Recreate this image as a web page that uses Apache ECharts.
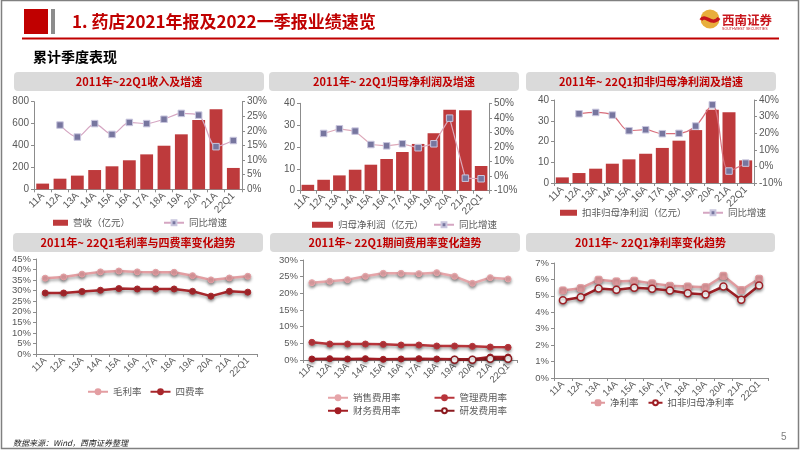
<!DOCTYPE html>
<html><head><meta charset="utf-8">
<script src="https://cdn.jsdelivr.net/npm/echarts@6/dist/echarts.min.js"></script>
<style>html,body{margin:0;padding:0;background:#fff}#c{width:802px;height:451px}</style>
</head><body><div id="c"></div>
<script>
// ---- data ----
const categories = ['11A','12A','13A','14A','15A','16A','17A','18A','19A','20A','21A','22Q1'];
const revenue = [52,97,125,176,210,265,319,398,502,633,730,195];
const revenueGrowth = ['-',22.0,17.9,22.5,18.8,22.9,22.5,24.0,26.0,25.4,14.6,16.7];
const netProfit = [2.7,5.0,7.0,9.6,11.9,14.5,17.7,21.4,26.3,37.0,36.8,11.3];
const netProfitGrowth = ['-',29.3,32.5,30.9,21.7,20.8,22.2,19.5,22.2,39.8,-1.4,-1.8];
const deductedProfit = [2.7,4.8,6.9,9.3,11.4,14.1,16.9,20.4,25.5,35.3,34.1,10.9];
const deductedGrowth = ['-',31.7,32.5,30.9,21.5,22.1,19.7,19.9,24.3,37.1,-2.8,2.0];
const grossMargin = [35.9,36.5,37.8,38.9,39.3,38.9,38.7,38.7,37.1,35.1,36.0,36.8];
const fourExpense = [28.9,28.9,29.6,30.2,31.0,30.8,30.8,30.8,29.7,27.4,29.7,29.3];
const salesExp = [23.2,23.6,24.1,25.1,26.0,26.0,25.9,26.2,25.1,23.0,24.7,24.3];
const adminExp = [5.3,4.8,4.8,4.8,4.7,4.5,4.5,4.2,4.2,4.1,3.9,3.8];
const financeExp = [0.3,0.4,0.3,0.4,0.2,0.3,0.4,0.3,0.2,0.2,0.9,0.9];
const rdExp = ['-','-','-','-','-','-','-','-',0.1,0.1,0.4,0.4];
const netMargin = [5.33,5.47,5.98,5.88,5.92,5.76,5.61,5.57,5.53,6.22,5.35,6.04];
const deductedMargin = [4.73,4.92,5.45,5.37,5.49,5.43,5.33,5.16,5.08,5.57,4.76,5.63];

const panelTitles = ['2011年~22Q1收入及增速','2011年~ 22Q1归母净利润及增速','2011年~ 22Q1扣非归母净利润及增速',
  '2011年~ 22Q1毛利率与四费率变化趋势','2011年~ 22Q1期间费用率变化趋势','2011年~ 22Q1净利率变化趋势'];

// ---- styling ----
const FONT = '"Liberation Sans", Arial, sans-serif';
const CJK = '"Noto Sans CJK SC", sans-serif';
const AX = '#8c8c8c', LBL = '#595959', RED = '#C00000', BAR = '#BE3A3C';

const chart = echarts.init(document.getElementById('c'));

function grid(l, r, t, b) { return {left:l, top:t, width:r-l, height:b-t}; }
const grids = [grid(34,242,101.7,189.3), grid(300,489,103.3,190.7), grid(554,754,100,183),
               grid(36,257,259,354), grid(303,517,260,360), grid(554,768,263,378)];
function xAx(i, fs){ return {gridIndex:i, type:'category', data:categories, boundaryGap:true,
  axisLine:{onZero:false, lineStyle:{color:AX}}, axisTick:{show:true,length:3,lineStyle:{color:AX}},
  axisLabel:{interval:0, rotate:45, fontSize:fs||10, color:LBL, margin:5, fontFamily:FONT}, splitLine:{show:false}}; }
function yAx(i, min, max, interval, pct, pos, fs){ return {gridIndex:i, type:'value', min:min, max:max, interval:interval,
  position:pos||'left', axisLine:{show:true, lineStyle:{color:AX}}, axisTick:{show:true,length:3,lineStyle:{color:AX}},
  axisLabel:{fontSize:fs||10, color:LBL, margin:5, fontFamily:FONT, formatter: pct ? '{value}%' : '{value}'}, splitLine:{show:false}}; }

const xAxes = [xAx(0), xAx(1), xAx(2), xAx(3,9.5), xAx(4,9.5), xAx(5,9.5)];
const yAxes = [
  yAx(0,0,800,200,false), yAx(0,0,30,5,true,'right'),
  yAx(1,0,40,10,false), yAx(1,-10,50,10,true,'right'),
  yAx(2,0,40,10,false), yAx(2,-10,40,10,true,'right'),
  yAx(3,0,45,5,true,'left',9.5), yAx(4,0,30,5,true,'left',9.5), yAx(5,0,7,1,true,'left',9.5)
];

const shadow = {shadowBlur:3, shadowColor:'rgba(0,0,0,0.35)', shadowOffsetY:2};
function barS(name, xi, yi, data, w){ return {name:name, type:'bar', xAxisIndex:xi, yAxisIndex:yi, data:data, barWidth:w,
  itemStyle:{color:BAR}}; }
function growthS(xi, yi, data, lineColor, smooth){ return {name:'同比增速', type:'line', xAxisIndex:xi, yAxisIndex:yi, data:data,
  smooth:smooth, symbol:'rect', symbolSize:6.5, lineStyle:{color:lineColor, width:1.2},
  itemStyle:{color:'#77769F', borderColor:'#C9C6DE', borderWidth:1}}; }
function lineS(name, xi, yi, data, color, opts){ opts = opts || {};
  return {name:name, type:'line', xAxisIndex:xi, yAxisIndex:yi, data:data, symbol:opts.symbol||'circle', symbolSize:opts.size||6,
   lineStyle:Object.assign({color:color, width:opts.width||2.5}, shadow),
   itemStyle:Object.assign({color:opts.fill||color, borderColor:color, borderWidth:opts.bw||1}, shadow)}; }

const series = [
  barS('营收（亿元）',0,0,revenue,'74%'),
  growthS(0,1,revenueGrowth,'#D5A6C2',0.3),
  barS('归母净利润（亿元）',1,2,netProfit,'80%'),
  growthS(1,3,netProfitGrowth,'#DDA9BA',0),
  barS('扣非归母净利润（亿元）',2,4,deductedProfit,'78%'),
  growthS(2,5,deductedGrowth,'#D86F7C',0.35),
  lineS('毛利率',3,6,grossMargin,'#E39EA2'),
  lineS('四费率',3,6,fourExpense,'#A8272C'),
  lineS('销售费用率',4,7,salesExp,'#E6A5A9'),
  lineS('管理费用率',4,7,adminExp,'#B8353B'),
  lineS('财务费用率',4,7,financeExp,'#A31E25'),
  lineS('研发费用率',4,7,rdExp,'#8B1A1F',{fill:'#fff',bw:1.5,size:7}),
  lineS('净利率',5,8,netMargin,'#E09A9E',{symbol:'roundRect',size:7}),
  lineS('扣非归母净利率',5,8,deductedMargin,'#9E1F25',{fill:'#fff',bw:1.5,size:7})
];

const lt = {fontSize:9.5, color:LBL, fontFamily:CJK};
function leg(left, cy, names, w, h, gap, icon){ return {left:left, top:cy-7, itemWidth:w, itemHeight:h, itemGap:gap||10,
  textStyle:lt, selectedMode:false, padding:0, data:names.map(n => icon ? {name:n, icon:icon} : n)}; }
const legends = [
  leg(53,225,['营收（亿元）'],15,6,0,'rect'), leg(163,225,['同比增速'],20,6),
  leg(312,227,['归母净利润（亿元）'],21,6,0,'rect'), leg(433,227,['同比增速'],20,6),
  leg(560,215,['扣非归母净利润（亿元）'],17,6,0,'rect'), leg(702,215,['同比增速'],20,6),
  leg(87,394,['毛利率','四费率'],20,6,8),
  leg(327,400,['销售费用率','管理费用率'],20,6,33),
  leg(327,413,['财务费用率','研发费用率'],20,6,33),
  leg(590,405,['净利率','扣非归母净利率'],14,6,9)
];

// ---- slide decoration ----
const headers = [[14,72,250],[269,72,250],[526,72,250],[13,233,250],[270,233,250],[526,233,249]];
const graphics = [
  {type:'rect', shape:{x:1.5,y:0.5,width:797,height:448}, style:{fill:'none', stroke:'#808080', lineWidth:1.5}},
  {type:'rect', shape:{x:24,y:9,width:24,height:25}, style:{fill:RED}},
  {type:'rect', shape:{x:51,y:9,width:4,height:25}, style:{fill:'#8C8C8C'}},
  {type:'text', x:72, y:22, style:{text:'1. 药店2021年报及2022一季报业绩速览', fill:RED, font:'bold 17px "Noto Sans CJK SC", sans-serif', textVerticalAlign:'middle'}},
  {type:'line', shape:{x1:22,y1:38.5,x2:779,y2:38.5}, style:{stroke:RED, lineWidth:2}},
  {type:'circle', shape:{cx:710,cy:19,r:9.5}, style:{fill:'#E8AE3C'}},
  {type:'bezierCurve', shape:{x1:701,y1:20,cpx1:705,cpy1:13,cpx2:712,cpy2:27,x2:719,y2:18}, style:{fill:'none', stroke:'#C8161D', lineWidth:3.5}},
  {type:'text', x:722, y:20, style:{text:'西南证券', fill:'#C8161D', font:'bold 12.5px "Noto Sans CJK SC", sans-serif', textVerticalAlign:'middle'}},
  {type:'text', x:722, y:28.5, style:{text:'SOUTHWEST SECURITIES', fill:'#C8161D', font:'3.6px "Liberation Sans", sans-serif', textVerticalAlign:'middle'}},
  {type:'text', x:33, y:57, style:{text:'累计季度表现', fill:'#000', font:'bold 14px "Noto Sans CJK SC", sans-serif', textVerticalAlign:'middle'}},
  {type:'text', x:13, y:443, style:{text:'数据来源：Wind，西南证券整理', fill:'#222', font:'italic 8px "Noto Sans CJK SC", sans-serif', textVerticalAlign:'middle'}},
  {type:'text', x:781, y:437, style:{text:'5', fill:'#7f7f7f', font:'10px "Liberation Sans", sans-serif', textVerticalAlign:'middle'}}
];
headers.forEach(function(h, i){
  graphics.push({type:'rect', shape:{x:h[0],y:h[1],width:h[2],height:19,r:4}, style:{fill:'#DADADA'}});
  graphics.push({type:'text', x:h[0]+h[2]/2, y:h[1]+9.5, style:{text:panelTitles[i], fill:RED,
    font:'bold 11px "Noto Sans CJK SC", sans-serif', textAlign:'center', textVerticalAlign:'middle'}});
});

chart.setOption({
  animation:false,
  backgroundColor:'#fff',
  grid:grids, xAxis:xAxes, yAxis:yAxes, series:series, legend:legends, graphic:graphics
});
</script></body></html>
